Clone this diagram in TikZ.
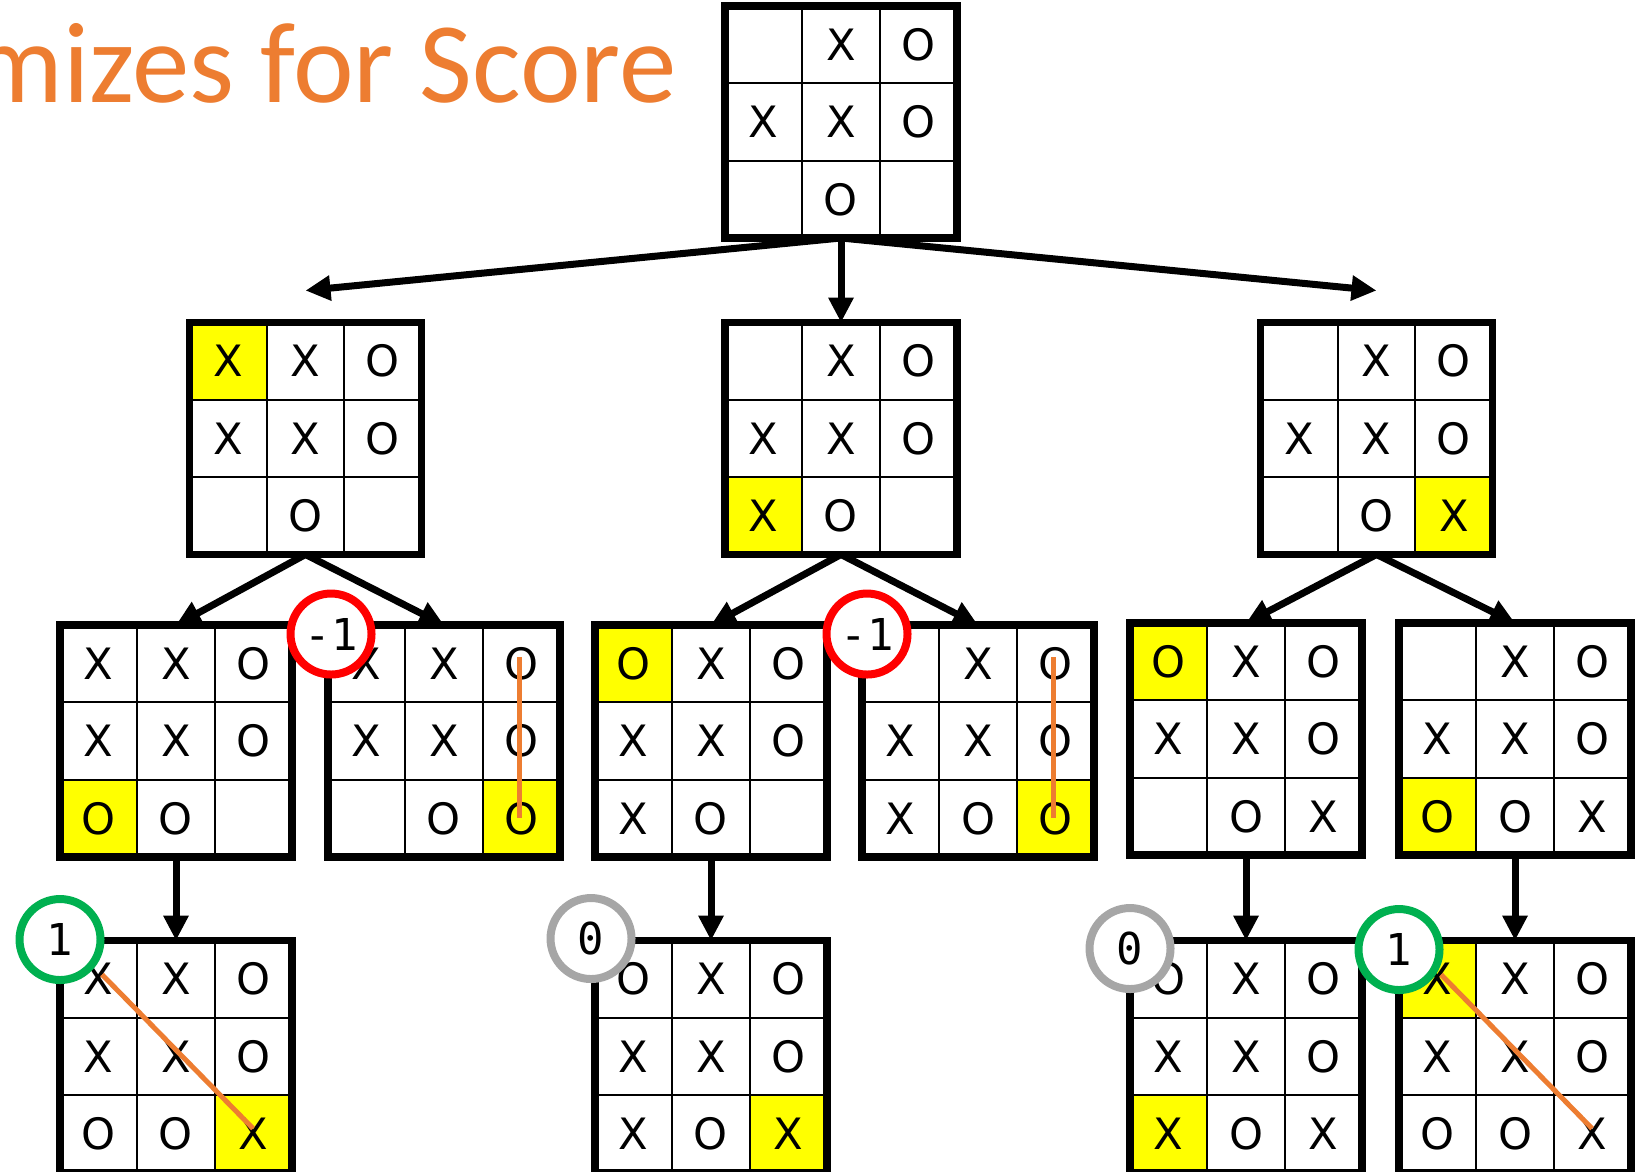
\documentclass[tikz,border=0pt]{standalone}
\usepackage{fontspec}
\setmainfont{DejaVu Sans}
\newfontfamily\titlefont{Carlito}
\newfontfamily\scorefont{DejaVu Sans Mono}
\usetikzlibrary{arrows.meta, calc, backgrounds}
\definecolor{titleorange}{HTML}{ED7D31}
\definecolor{lastmove}{HTML}{FFFF00}
\definecolor{wingreen}{HTML}{00B050}
\definecolor{drawgray}{HTML}{A6A6A6}
\definecolor{lossred}{HTML}{FF0000}

% one board: #1 name, #2 centre, #3 last move row/col (may be empty), #4 pieces row/col/letter
\newcommand{\tttboard}[4]{%
  \node[board back] (#1 back) at (#2) {};
  \begin{scope}[shift={(#2)}]
    \if\relax\detokenize{#3}\relax\else
      \foreach \row/\col in {#3}
        \fill[lastmove] ({(\col-2.5)*\cellw},{(\row-2.5)*\cellw}) rectangle ++(\cellw,\cellw);
    \fi
    \foreach \k in {-0.5,0.5} {
      \draw[grid line] ({\k*\cellw},{-1.5*\cellw}) -- ({\k*\cellw},{1.5*\cellw});
      \draw[grid line] ({-1.5*\cellw},{\k*\cellw}) -- ({1.5*\cellw},{\k*\cellw});
    }
    \foreach \row/\col/\pc in {#4}
      \node[piece] at ({(\col-2)*\cellw},{(\row-2)*\cellw}) {\pc};
  \end{scope}
  \node[board edge] (#1) at (#2) {};
}

\begin{document}
\begin{tikzpicture}[
    x=0.02cm, y=-0.02cm,
    >={Triangle[length=0.5cm, width=0.48cm]},
    % ── shared styles ──
    board back/.style={minimum size=4.64cm, inner sep=0pt, outer sep=0pt, fill=white},
    board edge/.style={draw=black, line width=0.15cm, minimum size=4.64cm,
        inner sep=0pt, outer sep=0pt},
    grid line/.style={line width=0.045cm},
    piece/.style={font=\fontsize{24.6}{26}\selectfont, inner sep=0pt,
        text height=17.9pt, text depth=0pt},
    move arrow/.style={->, line width=0.14cm},
    win line/.style={draw=titleorange, line width=0.1cm},
    score ring/.style={circle, draw=#1, line width=0.16cm, fill=white,
        minimum size=1.62cm, inner sep=0pt, outer sep=0pt,
        font=\scorefont\fontsize{25}{27}\selectfont, text height=18.2pt, text depth=0pt},
    title text/.style={font=\titlefont\fontsize{65.4}{70}\selectfont,
        text=titleorange, inner sep=0pt},
]
\def\cellw{77.33}
\useasboundingbox (0,0) rectangle (1640,1171);
\clip (0,0) rectangle (1640,1171);

% ══════════════════════════════════════════════════════════════════════
%  TITLE
% ══════════════════════════════════════════════════════════════════════
\node[title text, anchor=base east] (title) at (677,102) {mizes for Score};

% ══════════════════════════════════════════════════════════════════════
%  BOARDS
% ══════════════════════════════════════════════════════════════════════
% ── root ──
\tttboard{root}{841,122}{}
    {1/2/X,1/3/O,2/1/X,2/2/X,2/3/O,3/2/O}

% ── X to move ──
\tttboard{pickL}{305.5,438.5}{1/1}
    {1/1/X,1/2/X,1/3/O,2/1/X,2/2/X,2/3/O,3/2/O}
\tttboard{pickM}{841,438.5}{3/1}
    {1/2/X,1/3/O,2/1/X,2/2/X,2/3/O,3/1/X,3/2/O}
\tttboard{pickR}{1376.5,438.5}{3/3}
    {1/2/X,1/3/O,2/1/X,2/2/X,2/3/O,3/2/O,3/3/X}

% ── O replies ──
\tttboard{replyLL}{176,741}{3/1}
    {1/1/X,1/2/X,1/3/O,2/1/X,2/2/X,2/3/O,3/1/O,3/2/O}
\tttboard{replyLR}{444,741}{3/3}
    {1/1/X,1/2/X,1/3/O,2/1/X,2/2/X,2/3/O,3/2/O,3/3/O}
\tttboard{replyML}{711,741}{1/1}
    {1/1/O,1/2/X,1/3/O,2/1/X,2/2/X,2/3/O,3/1/X,3/2/O}
\tttboard{replyMR}{978,741}{3/3}
    {1/2/X,1/3/O,2/1/X,2/2/X,2/3/O,3/1/X,3/2/O,3/3/O}
\tttboard{replyRL}{1246,739}{1/1}
    {1/1/O,1/2/X,1/3/O,2/1/X,2/2/X,2/3/O,3/2/O,3/3/X}
\tttboard{replyRR}{1515,739}{3/1}
    {1/2/X,1/3/O,2/1/X,2/2/X,2/3/O,3/1/O,3/2/O,3/3/X}

% ── final moves ──
\tttboard{endLL}{176,1056.5}{3/3}
    {1/1/X,1/2/X,1/3/O,2/1/X,2/2/X,2/3/O,3/1/O,3/2/O,3/3/X}
\tttboard{endML}{711,1056.5}{3/3}
    {1/1/O,1/2/X,1/3/O,2/1/X,2/2/X,2/3/O,3/1/X,3/2/O,3/3/X}
\tttboard{endRL}{1246,1056.5}{3/1}
    {1/1/O,1/2/X,1/3/O,2/1/X,2/2/X,2/3/O,3/1/X,3/2/O,3/3/X}
\tttboard{endRR}{1515,1056.5}{1/1}
    {1/1/X,1/2/X,1/3/O,2/1/X,2/2/X,2/3/O,3/1/O,3/2/O,3/3/X}

% ══════════════════════════════════════════════════════════════════════
%  MOVE ARROWS (under the boards)
% ══════════════════════════════════════════════════════════════════════
\coordinate (tipL) at ($(pickL.north)+(0,-32)$);
\coordinate (tipR) at ($(pickR.north)+(0,-32)$);
\begin{scope}[on background layer]
  \draw[move arrow] (root.south) -- (tipL);
  \draw[move arrow] (root.south) -- (pickM.north);
  \draw[move arrow] (root.south) -- (tipR);
  \draw[move arrow] (pickL.south) -- (replyLL.north);
  \draw[move arrow] (pickL.south) -- (replyLR.north);
  \draw[move arrow] (pickM.south) -- (replyML.north);
  \draw[move arrow] (pickM.south) -- (replyMR.north);
  \draw[move arrow] (pickR.south) -- (replyRL.north);
  \draw[move arrow] (pickR.south) -- (replyRR.north);
  \draw[move arrow] (replyLL.south) -- (endLL.north);
  \draw[move arrow] (replyML.south) -- (endML.north);
  \draw[move arrow] (replyRL.south) -- (endRL.north);
  \draw[move arrow] (replyRR.south) -- (endRR.north);
\end{scope}

% ══════════════════════════════════════════════════════════════════════
%  WINNING LINES
% ══════════════════════════════════════════════════════════════════════
\draw[win line] ($(replyLR)+(75,-84)$) -- ($(replyLR)+(75,77)$);
\draw[win line] ($(replyMR)+(75,-84)$) -- ($(replyMR)+(75,77)$);
\draw[win line] ($(endLL)+(-74,-82)$) -- ($(endLL)+(77,72)$);
\draw[win line] ($(endRR)+(-74,-82)$) -- ($(endRR)+(77,72)$);

% ══════════════════════════════════════════════════════════════════════
%  SCORES
% ══════════════════════════════════════════════════════════════════════
\node[score ring=lossred]  (scoreLR) at ($(replyLR.north west)+(3,9)$) {-1};
\node[score ring=lossred]  (scoreMR) at ($(replyMR.north west)+(5,9)$) {-1};
\node[score ring=wingreen] (scoreLL) at ($(endLL.north west)+(0,-1)$) {1};
\node[score ring=drawgray] (scoreML) at ($(endML.north west)+(-4,-2)$) {0};
\node[score ring=drawgray] (scoreRL) at ($(endRL.north west)+(0,8)$) {0};
\node[score ring=wingreen] (scoreRR) at ($(endRR.north west)+(0,9)$) {1};

\end{tikzpicture}
\end{document}
